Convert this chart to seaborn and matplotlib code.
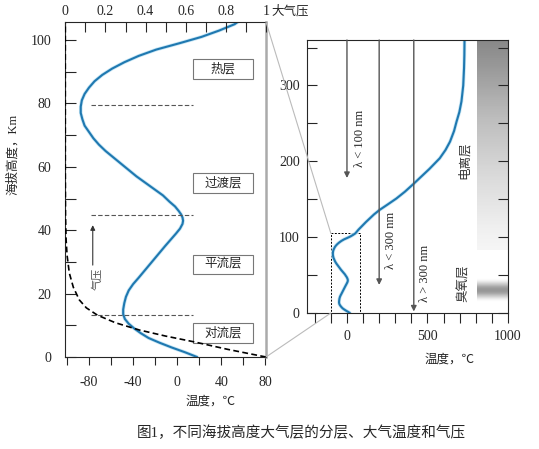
import numpy as np
import pandas as pd
import matplotlib
matplotlib.use('Agg')
import matplotlib.pyplot as plt
import seaborn as sns
from matplotlib.patches import Rectangle, ConnectionPatch

sns.set_style('ticks')
plt.rcParams['font.family'] = ['Liberation Serif', 'Noto Sans CJK SC']
plt.rcParams['axes.unicode_minus'] = False

# 温度剖面 (海拔 km, 温度 ℃)
alt_km = [0, 1.5, 3, 4.5, 6, 7.5, 9, 10.5, 12, 13.5, 15, 17, 19, 21, 23,
          25, 27.5, 30, 32.5, 35, 37, 39, 40.5, 42, 43, 44, 45, 46, 47.5, 49,
          51, 53, 55, 57, 59, 61, 63, 65, 67, 69, 71, 73, 75, 77, 79,
          81, 83, 85, 87, 89, 91, 93, 95, 97, 99, 101, 103, 105, 110, 115,
          120, 125, 130, 136, 143, 151, 160, 170, 180, 190, 204, 215, 226, 240, 252,
          265, 279, 300, 323, 340, 360]
temp_c = [18, 7, -5, -16, -26, -33, -39, -44, -47.5, -49, -49, -48, -46.5, -44, -40,
          -35, -29, -23, -17, -11, -6, -1, 2.5, 4.8, 5.3, 4.8, 3.5, 1.5, -2, -7,
          -13, -21, -29, -37, -44, -51, -58, -65, -71, -76, -80, -84, -86, -87.5, -87.5,
          -86.5, -84, -80, -75, -68, -59, -48, -35, -19, 2, 22, 38, 52, 72, 95,
          118, 143, 168, 203, 252, 307, 360, 412, 462, 512, 576, 612, 640, 665, 680,
          698, 711, 722, 727, 729, 730]

# 气压 (大气压)
p_alt_km = [0, 2.4, 4.8, 6.6, 8.5, 10.8, 13.2, 15.5, 18, 22, 26.5, 32, 37, 45, 60, 106]
pressure_atm = [1, 0.81, 0.64, 0.5, 0.37, 0.25, 0.16, 0.105, 0.07, 0.04, 0.02,
                0.009, 0.004, 0.001, 0, 0]

layer_names = ['热层', '过渡层', '平流层', '对流层']
layer_alt = [90.9, 54.9, 29.2, 7.6]
boundary_alt = [79.5, 44.7, 13.2]

uv_labels = ['λ < 100 nm', 'λ < 300 nm', 'λ > 300 nm']
uv_temp = [0, 200, 415]
uv_stop_alt = [178, 37, 2]

df_t = pd.DataFrame({'alt': alt_km, 'temp': temp_c})
df_p = pd.DataFrame({'alt': p_alt_km, 'p': pressure_atm})

blue = '#1f78b0'
halo = '#c6e6f5'
fig = plt.figure(figsize=(5.39, 4.49), dpi=100)

# ---------- 左图 ----------
ax = fig.add_axes([65.3 / 539, 92 / 449, 200.7 / 539, 335 / 449])
ax2 = ax.twiny()

sns.lineplot(data=df_t, x='temp', y='alt', orient='y', ax=ax, color=halo, lw=2.6)
sns.lineplot(data=df_t, x='temp', y='alt', orient='y', ax=ax, color=blue, lw=1.5)
sns.lineplot(data=df_p, x='p', y='alt', orient='y', ax=ax2, color='black',
             lw=1.2, linestyle=(0, (3.5, 2)))

ax.set_xlim(-101.5, 80.5)
ax.set_ylim(0, 105.7)
ax2.set_xlim(0, 1)
ax.set_xlabel('')
ax.set_ylabel('')
ax2.set_xlabel('')
ax2.set_ylabel('')

ax.set_xticks([-80, -40, 0, 40, 80])
ax.set_xticks(np.arange(-100, 81, 20), minor=True)
ax.set_yticks([0, 20, 40, 60, 80, 100])
ax.set_yticks(np.arange(0, 101, 10), minor=True)
ax.tick_params(axis='x', which='both', direction='out', length=6, width=0.8,
               labelsize=10, pad=8)
ax.tick_params(axis='y', which='both', direction='in', length=8, width=0.8,
               labelsize=10, pad=10)
ax2.set_xticks([0, 0.2, 0.4, 0.6, 0.8, 1])
ax2.set_xticklabels(['0', '0.2', '0.4', '0.6', '0.8', '1'])
ax2.set_xticks(np.arange(0, 1.01, 0.1), minor=True)
ax2.tick_params(axis='x', which='both', direction='in', length=7, width=0.8,
                labelsize=10, pad=3)
ax2.text(1.025, 1.012, '大气压', transform=ax2.transAxes, fontsize=9,
         ha='left', va='bottom')

for s in ['top', 'right', 'left', 'bottom']:
    ax2.spines[s].set_visible(False)
ax2.spines['top'].set_visible(True)
ax2.spines['top'].set_linewidth(0.8)
ax.spines['top'].set_visible(False)
ax.spines['right'].set_color('#aaaaaa')
ax.spines['right'].set_linewidth(1.8)
ax.spines['left'].set_linewidth(0.8)
ax.spines['bottom'].set_linewidth(0.8)

ax.hlines(boundary_alt, -78, 14, colors='#555555', linestyles=(0, (4, 2)), lw=0.8)
for name, z in zip(layer_names, layer_alt):
    ax.add_patch(Rectangle((14, z - 3.1), 55, 6.2, fc='white', ec='#777777',
                           lw=0.8, zorder=3))
    ax.text(41.5, z, name, ha='center', va='center', fontsize=9, zorder=4)

ax.annotate('', xy=(-76.6, 41.6), xytext=(-76.6, 29),
            arrowprops=dict(arrowstyle='-|>', color='#333333', lw=0.8,
                            mutation_scale=7, shrinkA=0, shrinkB=0))
ax.text(-73, 24.5, '气压', rotation=90, ha='center', va='center',
        fontsize=8, color='#555555')

# ---------- 右图 ----------
axr = fig.add_axes([306.7 / 539, 136 / 449, 201.3 / 539, 273 / 449])

ion = np.linspace(0.08, 0.55, 100).reshape(-1, 1)
axr.imshow(ion, extent=[805, 1000, 83, 360], origin='lower', aspect='auto',
           cmap='Greys', vmin=0, vmax=1, zorder=0)
oz_z = np.linspace(-1, 1, 40)
oz = (0.5 * (1 - oz_z ** 2) ** 1.5).reshape(-1, 1)
axr.imshow(oz, extent=[805, 1000, 14, 45], origin='lower', aspect='auto',
           cmap='Greys', vmin=0, vmax=1, zorder=0)

for lab, t, zs in zip(uv_labels, uv_temp, uv_stop_alt):
    axr.annotate('', xy=(t, zs), xytext=(t, 360),
                 arrowprops=dict(arrowstyle='-|>', color='#555555', lw=1.0,
                                 mutation_scale=8, shrinkA=0, shrinkB=0))
axr.text(79, 230, uv_labels[0], rotation=90, ha='center', va='center', fontsize=9)
axr.text(276, 96, uv_labels[1], rotation=90, ha='center', va='center', fontsize=9)
axr.text(487, 52, uv_labels[2], rotation=90, ha='center', va='center', fontsize=9)
axr.text(731, 202, '电离层', rotation=90, ha='center', va='center', fontsize=9,
         color='#333333')
axr.text(725, 39, '臭氧层', rotation=90, ha='center', va='center', fontsize=9,
         color='#333333')

sns.lineplot(data=df_t, x='temp', y='alt', orient='y', ax=axr, color=halo, lw=2.6)
sns.lineplot(data=df_t, x='temp', y='alt', orient='y', ax=axr, color=blue, lw=1.5)
axr.add_patch(Rectangle((-100, 0), 180, 105, fill=False, ec='black', lw=0.7,
                        linestyle=(0, (2, 1.5))))

axr.set_xlim(-250, 1000)
axr.set_ylim(0, 360)
axr.set_xlabel('')
axr.set_ylabel('')
axr.set_xticks([0, 500, 1000])
axr.set_xticks(np.arange(-200, 1001, 100), minor=True)
axr.set_yticks([0, 100, 200, 300])
axr.set_yticks(np.arange(0, 351, 50), minor=True)
axr.tick_params(axis='x', which='both', direction='out', length=7, width=0.8,
                labelsize=10, pad=5)
axr.tick_params(axis='y', which='both', direction='in', length=7, width=0.8,
                labelsize=10, pad=5, right=True)
for s in axr.spines.values():
    s.set_linewidth(0.8)

# 连接线
for ya, yb in [(1, 105), (0, 0)]:
    con = ConnectionPatch(xyA=(1, ya), coordsA=ax.transAxes, xyB=(-100, yb),
                          coordsB=axr.transData, color='#bbbbbb', lw=0.8)
    fig.add_artist(con)

fig.text(13 / 539, 1 - 154 / 449, '海拔高度，Km', rotation=90, ha='center',
         va='center', fontsize=9)
fig.text(211 / 539, 1 - 402 / 449, '温度，℃', ha='center', va='center', fontsize=9)
fig.text(450 / 539, 1 - 360 / 449, '温度，℃', ha='center', va='center', fontsize=9)
fig.text(301 / 539, 1 - 433 / 449, '图1，不同海拔高度大气层的分层、大气温度和气压',
         ha='center', va='center', fontsize=10.5)

plt.savefig('out.png', dpi=100)
